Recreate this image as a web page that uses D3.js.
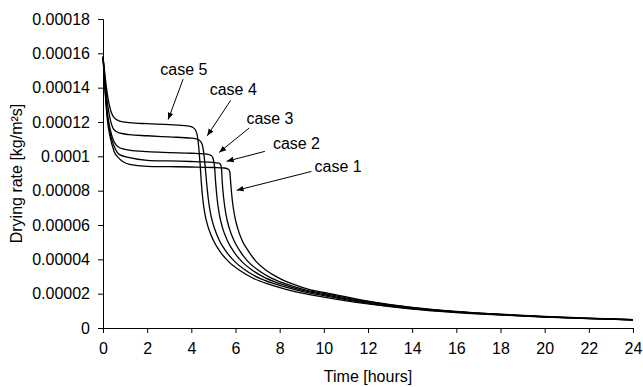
<!DOCTYPE html>
<html>
<head>
<meta charset="utf-8">
<script src="https://cdn.jsdelivr.net/npm/d3@7"></script>
<style>
  body { margin: 0; background: #fff; }
  text { font-family: "Liberation Sans", Arial, sans-serif; fill: #000; }
</style>
</head>
<body>
<div id="chart"></div>
<script>
// drying rate curves: [time in hours, rate in kg/m2s]
var case1 = [[0, 0.000158], [0.1, 0.000137], [0.2, 0.000121], [0.32, 0.0001115], [0.5, 0.000103], [0.75, 0.0000985],
  [1.2, 0.0000953], [2, 0.0000942], [3, 0.000094], [4, 0.0000938], [5, 0.0000935], [5.5, 0.0000932], [5.68, 0.0000925],
  [5.74, 0.000091], [5.78, 0.000085], [5.85, 0.000075], [5.95, 0.000066], [6.1, 0.000058], [6.3, 0.000051],
  [6.6, 0.0000445], [6.95, 0.0000385], [7.4, 0.0000335], [7.95, 0.0000292], [8.55, 0.0000258], [9.4, 0.0000222],
  [10, 0.0000207], [12, 0.0000157], [14, 0.000012], [16, 0.0000097], [18, 0.000008], [20, 0.0000067],
  [22, 0.0000057], [24, 0.0000049]];

var case2 = [[0, 0.000158], [0.1, 0.000138], [0.2, 0.000123], [0.32, 0.0001135], [0.5, 0.000106], [0.75, 0.000101],
  [1.2, 0.0000992], [2, 0.0000977], [3, 0.0000973], [4, 0.000097], [4.5, 0.0000968], [5.25, 0.000096],
  [5.33, 0.000095], [5.37, 0.000092], [5.4, 0.000085], [5.47, 0.000075], [5.57, 0.000066], [5.72, 0.000058],
  [5.93, 0.000051], [6.22, 0.0000445], [6.58, 0.0000385], [7.05, 0.0000335], [7.6, 0.0000292], [8.25, 0.0000258],
  [9.15, 0.0000222], [10, 0.0000201], [12, 0.0000153], [14, 0.0000118], [16, 0.0000095], [18, 0.0000079],
  [20, 0.0000066], [22, 0.0000056], [24, 0.0000048]];

var case3 = [[0, 0.000158], [0.1, 0.000139], [0.2, 0.000125], [0.32, 0.000116], [0.5, 0.0001085], [0.75, 0.000105],
  [1.2, 0.0001036], [2, 0.0001027], [3, 0.0001022], [4, 0.0001018], [4.7, 0.0001013], [4.9, 0.0001005],
  [4.98, 0.000099], [5.02, 0.0000965], [5.05, 0.000094], [5.1, 0.000085], [5.17, 0.000075], [5.27, 0.000066],
  [5.42, 0.000058], [5.63, 0.000051], [5.92, 0.0000445], [6.3, 0.0000385], [6.78, 0.0000335], [7.35, 0.0000292],
  [8.02, 0.0000258], [8.95, 0.0000222], [10, 0.0000195], [12, 0.0000149], [14, 0.0000116], [16, 0.0000094],
  [18, 0.0000078], [20, 0.0000065], [22, 0.0000056], [24, 0.0000048]];

var case4 = [[0, 0.000158], [0.1, 0.000143], [0.2, 0.000131], [0.32, 0.000122], [0.5, 0.0001155], [0.75, 0.0001136],
  [1.2, 0.0001126], [2, 0.000112], [3, 0.0001113], [4, 0.0001106], [4.3, 0.0001098], [4.43, 0.0001085],
  [4.52, 0.0001055], [4.58, 0.0001], [4.62, 0.000095], [4.69, 0.000085], [4.77, 0.000075], [4.88, 0.000066],
  [5.05, 0.000058], [5.27, 0.000051], [5.58, 0.0000445], [5.98, 0.0000385], [6.47, 0.0000335], [7.05, 0.0000292],
  [7.75, 0.0000258], [8.72, 0.0000222], [10, 0.0000188], [12, 0.0000144], [14, 0.0000113], [16, 0.0000092],
  [18, 0.0000077], [20, 0.0000065], [22, 0.0000055], [24, 0.0000047]];

var case5 = [[0, 0.000158], [0.1, 0.000146], [0.2, 0.000136], [0.32, 0.000128], [0.5, 0.0001225], [0.75, 0.0001205],
  [1.2, 0.0001196], [2, 0.000119], [3, 0.0001185], [3.8, 0.0001178], [4.05, 0.000117], [4.18, 0.0001155],
  [4.27, 0.000112], [4.33, 0.000106], [4.37, 0.0001], [4.4, 0.000095], [4.45, 0.000085], [4.52, 0.000075],
  [4.62, 0.000066], [4.78, 0.000058], [5.0, 0.000051], [5.3, 0.0000445], [5.7, 0.0000385], [6.2, 0.0000335],
  [6.8, 0.000029], [7.5, 0.0000255], [8.5, 0.0000218], [10, 0.000018], [12, 0.000014], [14, 0.000011],
  [16, 0.000009], [18, 0.0000076], [20, 0.0000064], [22, 0.0000055], [24, 0.0000047]];

// case labels and arrows, in data units: label point, arrow start, arrow tip
var labelNames = ["case 1", "case 2", "case 3", "case 4", "case 5"];
var labelAt = [[10.65, 0.0000907], [8.76, 0.0001043], [7.56, 0.000119], [5.9, 0.0001359], [3.66, 0.0001476]];
var arrowFrom = [[9.44, 0.0000912], [7.33, 0.0001029], [6.62, 0.0001165], [5.78, 0.0001326], [3.63, 0.000145]];
var arrowTo = [[6.05, 0.0000802], [5.6, 0.0000971], [5.26, 0.0001023], [4.72, 0.000112], [2.95, 0.0001214]];

var xTicks = d3.range(0, 25, 2);
var yTicks = d3.range(0, 0.000181, 0.00002);
var yTickLabels = ["0", "0.00002", "0.00004", "0.00006", "0.00008", "0.0001",
                   "0.00012", "0.00014", "0.00016", "0.00018"];

var series = [case1, case2, case3, case4, case5];

var W = 643, H = 387;
var margin = {top: 19, right: 10, bottom: 59, left: 103},
    width = W - margin.left - margin.right,
    height = H - margin.top - margin.bottom;

var svg = d3.select("#chart").append("svg")
    .attr("width", W)
    .attr("height", H);

var g = svg.append("g")
    .attr("transform", "translate(" + margin.left + "," + margin.top + ")");

var xScale = d3.scaleLinear().domain([0, 24]).range([0, width]),
    yScale = d3.scaleLinear().domain([0, 0.00018]).range([height, 0]);

// axes
var xAxis = d3.axisBottom(xScale)
    .tickValues(xTicks)
    .tickSize(5)
    .tickPadding(10)
    .tickFormat(d3.format("d"));

var yAxis = d3.axisLeft(yScale)
    .tickValues(yTicks)
    .tickSize(5)
    .tickPadding(8)
    .tickFormat(function(d, i) { return yTickLabels[i]; });

var gx = g.append("g")
    .attr("transform", "translate(0," + height + ")")
    .call(xAxis);
var gy = g.append("g").call(yAxis);

[gx, gy].forEach(function(a) {
  a.selectAll("path.domain").attr("stroke", "#000").attr("stroke-width", 1);
  a.selectAll("line").attr("stroke", "#000");
  a.selectAll("text")
    .style("font-size", "16px")
    .style("font-family", "'Liberation Sans', Arial, sans-serif")
    .attr("fill", "#000");
});

// curves
var line = d3.line()
    .x(function(d) { return xScale(d[0]); })
    .y(function(d) { return yScale(d[1]); })
    .curve(d3.curveMonotoneX);

g.selectAll("path.case")
  .data(series)
  .enter().append("path")
  .attr("class", "case")
  .attr("d", line)
  .attr("fill", "none")
  .attr("stroke", "#000")
  .attr("stroke-width", 1.3);

// arrowhead
svg.append("defs").append("marker")
    .attr("id", "arrow")
    .attr("viewBox", "0 0 10 10")
    .attr("refX", 10)
    .attr("refY", 5)
    .attr("markerWidth", 7)
    .attr("markerHeight", 7)
    .attr("markerUnits", "userSpaceOnUse")
    .attr("orient", "auto")
  .append("path")
    .attr("d", "M0,1 L10,5 L0,9 Z")
    .attr("fill", "#000");

g.selectAll("line.arrow")
  .data(labelNames)
  .enter().append("line")
  .attr("class", "arrow")
  .attr("x1", function(d, i) { return xScale(arrowFrom[i][0]); })
  .attr("y1", function(d, i) { return yScale(arrowFrom[i][1]); })
  .attr("x2", function(d, i) { return xScale(arrowTo[i][0]); })
  .attr("y2", function(d, i) { return yScale(arrowTo[i][1]); })
  .attr("stroke", "#000")
  .attr("stroke-width", 1)
  .attr("marker-end", "url(#arrow)");

g.selectAll("text.case")
  .data(labelNames)
  .enter().append("text")
  .attr("class", "case")
  .attr("x", function(d, i) { return xScale(labelAt[i][0]); })
  .attr("y", function(d, i) { return yScale(labelAt[i][1]); })
  .attr("text-anchor", "middle")
  .style("font-size", "16px")
  .text(function(d) { return d; });

// axis titles
svg.append("text")
    .attr("x", margin.left + width / 2)
    .attr("y", H - 5)
    .attr("text-anchor", "middle")
    .style("font-size", "16px")
    .text("Time [hours]");

svg.append("text")
    .attr("transform", "translate(22," + (margin.top + height / 2) + ") rotate(-90)")
    .attr("text-anchor", "middle")
    .style("font-size", "16px")
    .text("Drying rate [kg/m²s]");
</script>
</body>
</html>
